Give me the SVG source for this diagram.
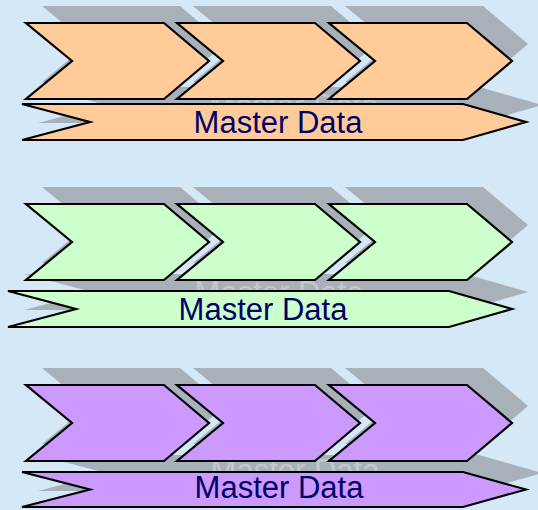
<svg xmlns="http://www.w3.org/2000/svg" xmlns:xlink="http://www.w3.org/1999/xlink" width="538" height="510" viewBox="0 0 538 510">
  <style>
    .shape { stroke: #000000; stroke-width: 2.2; stroke-linejoin: miter; }
    .shadow { fill: #A8B1B9; stroke: none; }
    .orange { fill: #FFCC99; }
    .green { fill: #CCFFCC; }
    .purple { fill: #CC99FF; }
    .label { font-family: "Liberation Sans", Arial, sans-serif; font-size: 31px; fill: #000066; text-anchor: middle; }
    .ghost { font-family: "Liberation Sans", Arial, sans-serif; font-size: 31px; fill: #C4C8CC; text-anchor: middle; }
  </style>
  <defs>
    <!-- process step chevron, 183 x 76 -->
    <path id="chev" d="M0,0 H138 L183,38 L138,76 H0 L46,38 Z"/>
    <!-- long notched band underneath the steps -->
    <path id="band" d="M0,0 H441 L504,18 L441,36 H0 L68,18 Z"/>
  </defs>

  <rect x="0" y="0" width="538" height="510" fill="#D5E8F8"/>

  <g id="connectors"/>

  <!-- row 1: orange -->
  <g id="row1-master">
    <use xlink:href="#band" class="shadow" transform="translate(38,87)"/>
    <text class="ghost" x="294" y="116">Master Data</text>
    <use xlink:href="#band" class="shape orange" transform="translate(22,104)"/>
    <text class="label" x="278" y="133">Master Data</text>
  </g>
  <g id="row1-step1">
    <use xlink:href="#chev" class="shadow" transform="translate(42,6)"/>
    <use xlink:href="#chev" class="shape orange" transform="translate(26,23)"/>
  </g>
  <g id="row1-step2">
    <use xlink:href="#chev" class="shadow" transform="translate(193,6)"/>
    <use xlink:href="#chev" class="shape orange" transform="translate(177,23)"/>
  </g>
  <g id="row1-step3">
    <use xlink:href="#chev" class="shadow" transform="translate(345,6)"/>
    <use xlink:href="#chev" class="shape orange" transform="translate(329,23)"/>
  </g>

  <!-- row 2: green -->
  <g id="row2-master">
    <use xlink:href="#band" class="shadow" transform="translate(24,274)"/>
    <text class="ghost" x="279" y="303">Master Data</text>
    <use xlink:href="#band" class="shape green" transform="translate(8,291)"/>
    <text class="label" x="263" y="320">Master Data</text>
  </g>
  <g id="row2-step1">
    <use xlink:href="#chev" class="shadow" transform="translate(42,187)"/>
    <use xlink:href="#chev" class="shape green" transform="translate(26,204)"/>
  </g>
  <g id="row2-step2">
    <use xlink:href="#chev" class="shadow" transform="translate(193,187)"/>
    <use xlink:href="#chev" class="shape green" transform="translate(177,204)"/>
  </g>
  <g id="row2-step3">
    <use xlink:href="#chev" class="shadow" transform="translate(345,187)"/>
    <use xlink:href="#chev" class="shape green" transform="translate(329,204)"/>
  </g>

  <!-- row 3: purple -->
  <g id="row3-master">
    <use xlink:href="#band" class="shadow" transform="translate(38,455)"/>
    <text class="ghost" x="295" y="481">Master Data</text>
    <use xlink:href="#band" class="shape purple" transform="translate(22,472) scale(1,0.972)"/>
    <text class="label" x="279" y="498">Master Data</text>
  </g>
  <g id="row3-step1">
    <use xlink:href="#chev" class="shadow" transform="translate(42,368)"/>
    <use xlink:href="#chev" class="shape purple" transform="translate(26,385)"/>
  </g>
  <g id="row3-step2">
    <use xlink:href="#chev" class="shadow" transform="translate(193,368)"/>
    <use xlink:href="#chev" class="shape purple" transform="translate(177,385)"/>
  </g>
  <g id="row3-step3">
    <use xlink:href="#chev" class="shadow" transform="translate(345,368)"/>
    <use xlink:href="#chev" class="shape purple" transform="translate(329,385)"/>
  </g>
</svg>
